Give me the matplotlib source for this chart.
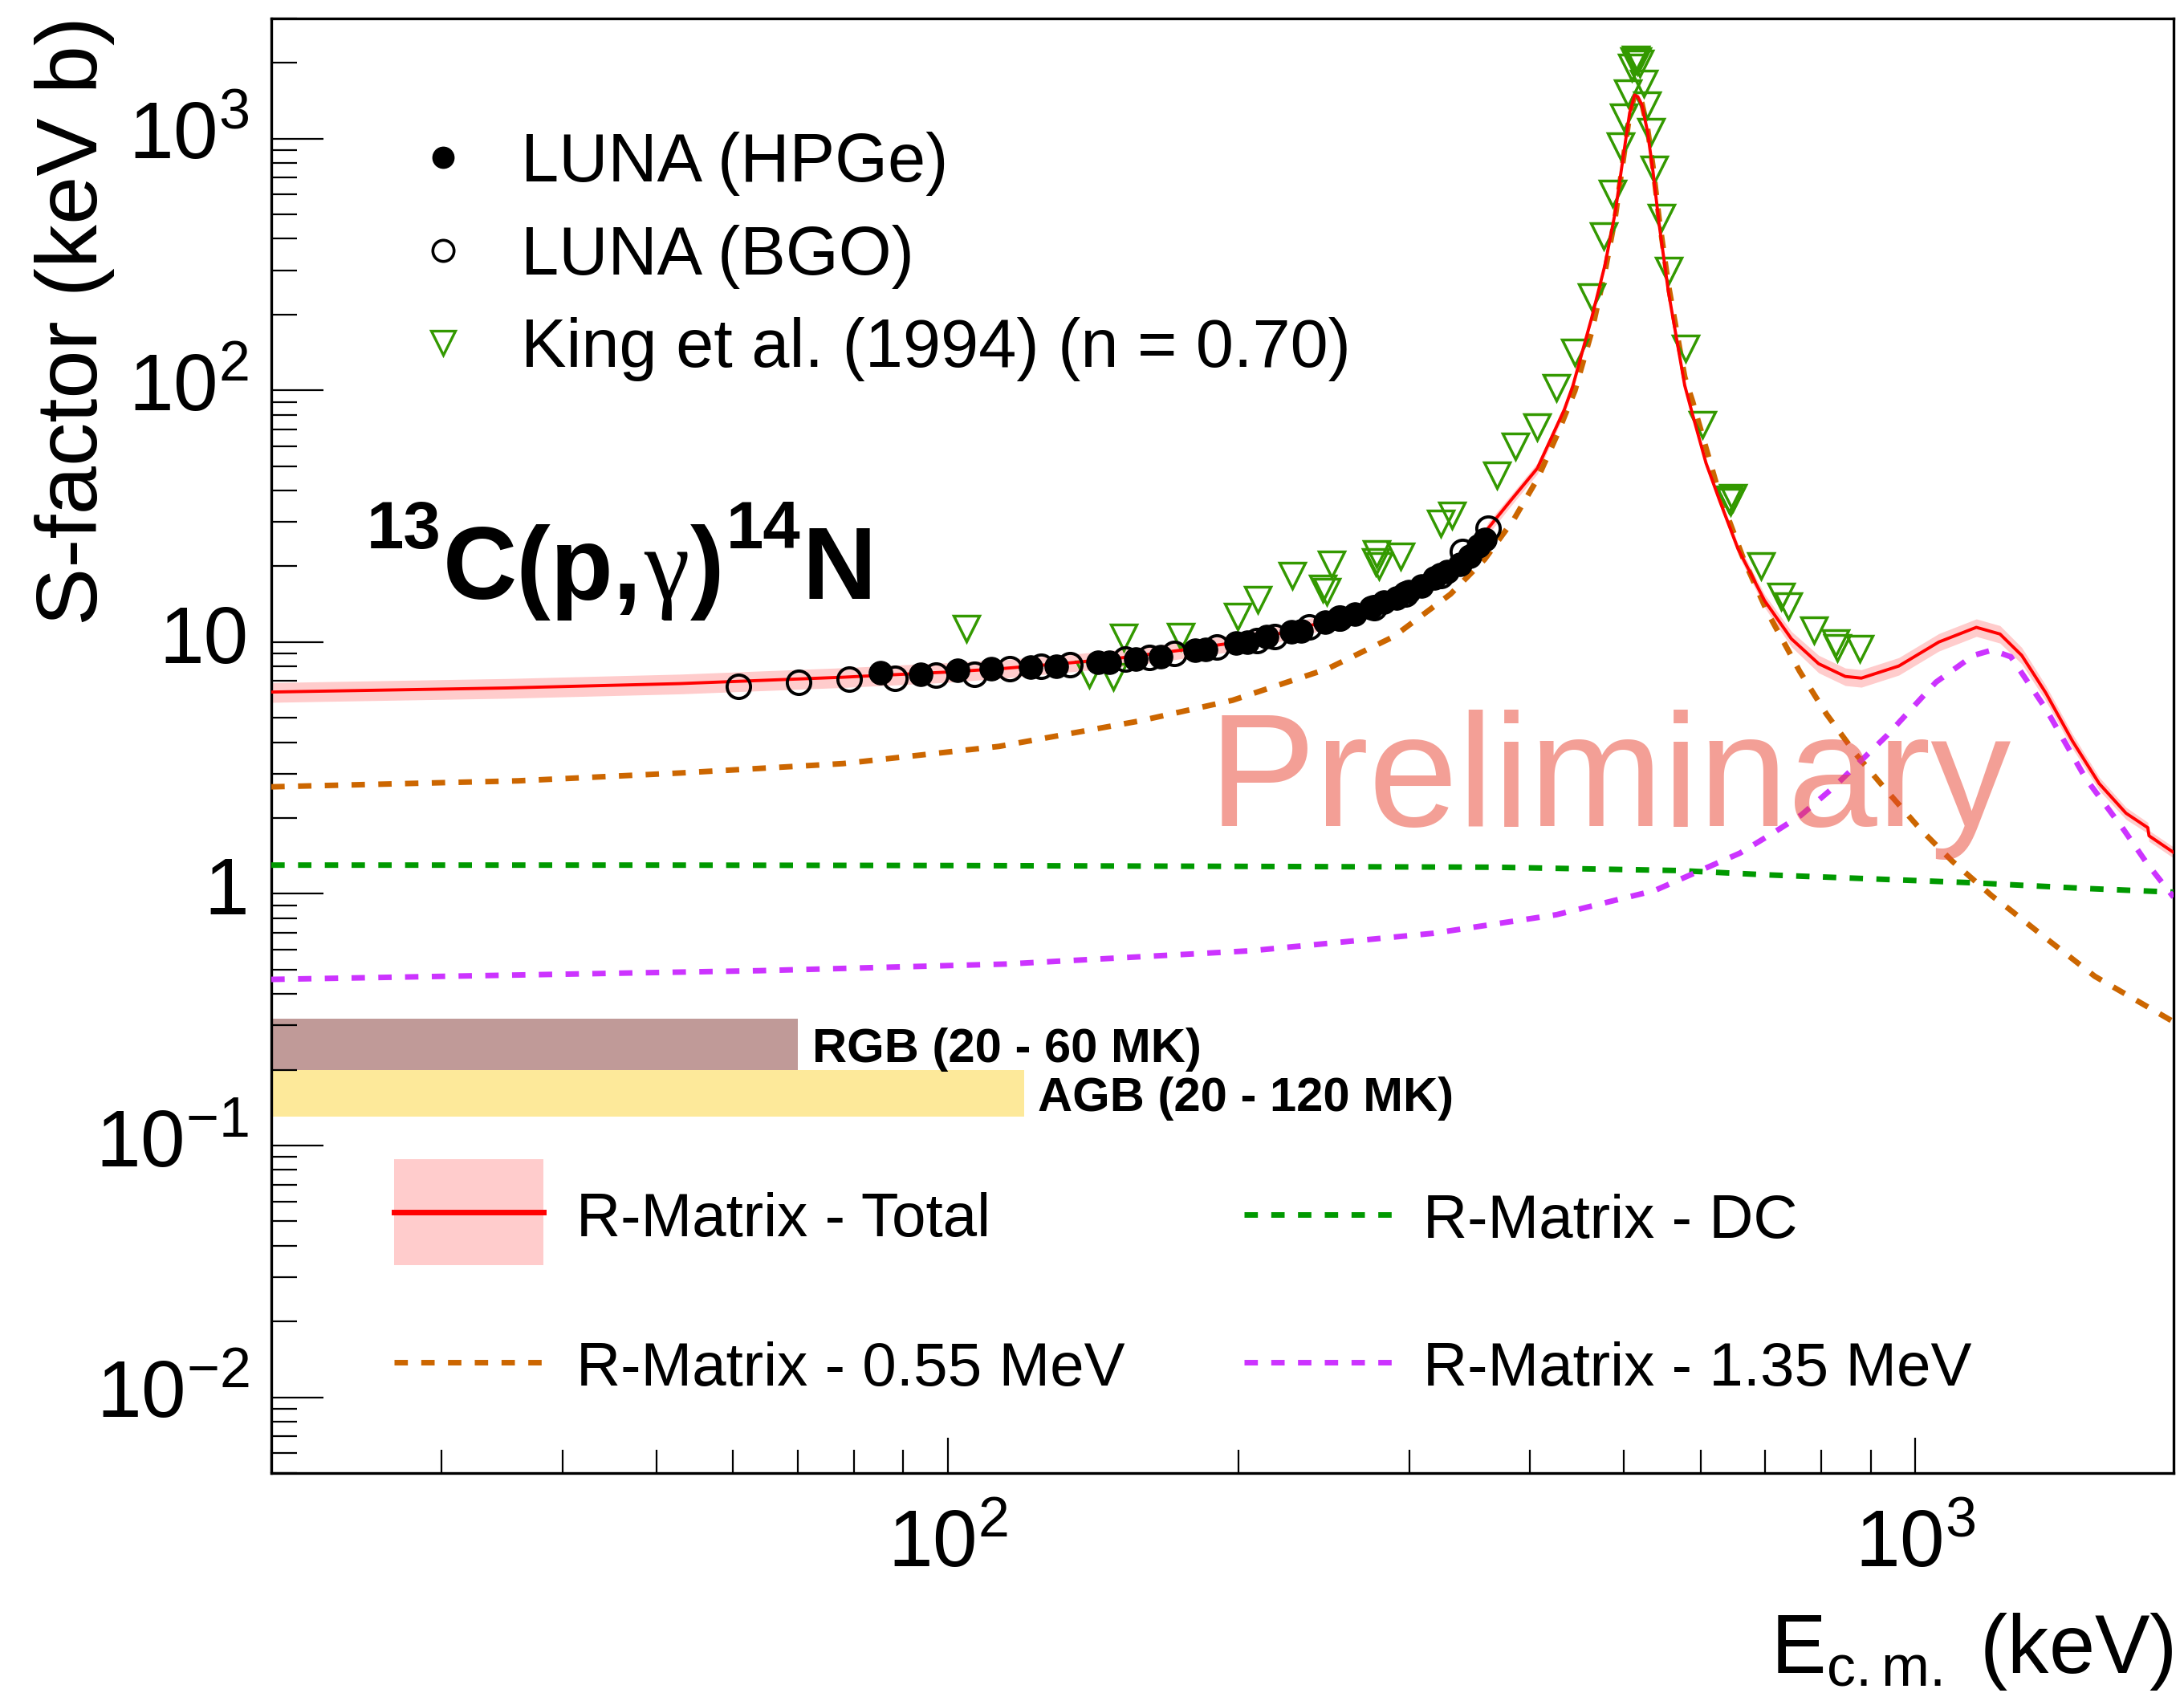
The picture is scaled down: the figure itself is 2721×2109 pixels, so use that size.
import numpy as np
import matplotlib
matplotlib.use("Agg")
import matplotlib.pyplot as plt
from matplotlib import transforms
from matplotlib.patches import Rectangle
from matplotlib.ticker import FixedLocator, LogLocator, NullFormatter

plt.rcParams["font.family"] = ["Liberation Sans", "DejaVu Sans"]
plt.rcParams["mathtext.fontset"] = "custom"
plt.rcParams["mathtext.rm"] = "Liberation Sans"
plt.rcParams["mathtext.it"] = "Liberation Sans:italic"
plt.rcParams["mathtext.bf"] = "Liberation Sans:bold"
plt.rcParams["mathtext.sf"] = "Liberation Sans"

# ---------------- data ----------------
# R-matrix total S-factor (keV b) and its relative uncertainty band
total_E = np.array([20, 35, 53, 78, 100, 114, 133, 150, 175, 200, 225, 250, 275, 300, 320,
                    340, 355, 362, 382, 407, 434, 443, 463, 478, 490, 499, 507, 513, 517,
                    522, 529, 536, 544, 556, 578, 589, 608, 628, 656, 699, 745, 795, 847,
                    880, 962, 1058, 1157, 1224, 1289, 1365, 1454, 1550, 1652, 1740, 1745,
                    1850])
total_S = np.array([6.33, 6.57, 6.84, 7.25, 7.6, 7.85, 8.25, 8.62, 9.3, 10.0, 11.0, 12.3,
                    13.9, 16.0, 18.2, 21.0, 24.4, 28.3, 36.5, 49.0, 83.9, 104.5, 193, 314,
                    512, 834, 1265, 1490, 1465, 1361, 1066, 738, 453, 246, 104.5, 79.9,
                    51.4, 36.5, 23.5, 14.6, 10.3, 8.2, 7.3, 7.19, 8.03, 10.0, 11.44, 10.76,
                    8.85, 6.28, 4.05, 2.74, 2.09, 1.83, 1.70, 1.46])
total_rel_err = np.array([0.09, 0.09, 0.09, 0.09, 0.09, 0.085, 0.08, 0.08, 0.075, 0.075,
                          0.07, 0.07, 0.065, 0.065, 0.06, 0.06, 0.055, 0.055, 0.05, 0.05,
                          0.04, 0.04, 0.03, 0.03, 0.03, 0.03, 0.03, 0.03, 0.03, 0.03, 0.03,
                          0.03, 0.035, 0.035, 0.04, 0.04, 0.04, 0.04, 0.05, 0.06, 0.07,
                          0.08, 0.08, 0.08, 0.08, 0.08, 0.08, 0.08, 0.075, 0.07, 0.065,
                          0.06, 0.055, 0.05, 0.05, 0.05])

# 0.55 MeV resonance component
res055_E = np.array([20, 36, 53, 78, 113, 158, 197, 247, 289, 331, 359, 385, 407, 426, 445,
                     463, 478, 490, 499, 507, 513, 517, 522, 529, 536, 544, 556, 578, 589,
                     628, 665, 704, 760, 810, 869, 937, 1012, 1092, 1201, 1251, 1356, 1534,
                     1850])
res055_S = np.array([2.66, 2.81, 3.02, 3.29, 3.85, 4.86, 5.87, 7.83, 10.5, 15.5, 21.3, 30.8,
                     44.4, 65.7, 99.5, 170, 295, 490, 810, 1250, 1490, 1470, 1380, 1100,
                     770, 475, 262, 113, 90.2, 38.4, 21.3, 13.1, 7.64, 5.17, 3.58, 2.54,
                     1.81, 1.35, 0.98, 0.87, 0.68, 0.47, 0.31])

# direct capture component
dc_E = np.array([20, 50, 100, 200, 368, 570, 700, 882, 1134, 1500, 1850])
dc_S = np.array([1.30, 1.30, 1.295, 1.285, 1.275, 1.237, 1.19, 1.15, 1.108, 1.05, 1.015])

# 1.35 MeV resonance component
res135_E = np.array([20, 64, 115, 206, 318, 426, 538, 659, 716, 762, 823, 935, 1051, 1149,
                     1201, 1256, 1365, 1501, 1641, 1738, 1850])
res135_S = np.array([0.457, 0.495, 0.526, 0.594, 0.697, 0.826, 1.03, 1.45, 1.76, 2.05, 2.64,
                     4.25, 6.93, 8.85, 9.29, 8.74, 5.43, 2.87, 1.81, 1.315, 0.97])

# LUNA data
hpge_E = np.array([85.2, 93.8, 102.5, 110.9, 121.9, 129.5, 143.1, 146.9, 156.6, 166.0,
                   180.1, 184.9, 198.7, 204.0, 213.5, 226.8, 232.0, 245.5, 254.0, 263.7,
                   273.9, 282.3, 290.9, 299.9, 309.0, 318.5, 328.3, 338.4, 346.1, 354.0,
                   359.4])
hpge_S = np.array([7.55, 7.46, 7.74, 7.83, 7.97, 8.03, 8.33, 8.33, 8.53, 8.78, 9.29, 9.34,
                   9.88, 10.0, 10.50, 10.97, 11.08, 12.01, 12.40, 12.93, 13.74, 14.43,
                   14.97, 15.84, 16.71, 17.98, 19.11, 20.32, 21.87, 24.11, 25.63])
bgo_E = np.array([60.8, 70.1, 79.2, 88.3, 97.3, 106.7, 116.0, 124.9, 133.9, 152.6, 161.7,
                  171.5, 189.9, 208.7, 217.6, 236.4, 254.0, 275.9, 297.6, 323.3, 340.8,
                  362.2])
bgo_S = np.array([6.65, 6.90, 7.10, 7.19, 7.37, 7.46, 7.83, 8.03, 8.13, 8.53, 8.68, 9.00,
                  9.57, 10.12, 10.55, 11.44, 12.46, 13.74, 15.53, 18.43, 22.96, 28.26])

# King et al. (1994), scaled by n = 0.70
king_E = np.array([104.5, 140.1, 148.4, 152.2, 174.1, 199.4, 209.2, 227.3, 244.2, 246.4,
                   249.2, 277.6, 277.0, 279.0, 294.2, 323.3, 331.9, 369.9, 386.0, 407.0,
                   425.6, 444.6, 462.8, 476.9, 486.4, 495.7, 500.2, 504.9, 509.8, 512.5,
                   514.0, 516.5, 519.6, 524.0, 528.3, 533.0, 537.5, 546.8, 555.9, 579.1,
                   602.5, 642, 645, 648, 693.7, 726.3, 739.3, 786.9, 827.9, 831.7, 875.9])
king_S = np.array([11.30, 7.42, 7.28, 10.45, 10.50, 12.61, 14.79, 18.43, 16.30, 15.91,
                   20.42, 22.4, 20.8, 20.07, 21.97, 29.68, 31.93, 46.0, 59.8, 71.5, 102.5,
                   141.9, 234.1, 410.9, 607.3, 931.4, 1219, 1519, 1917, 2030, 2062, 2040,
                   1988, 1655, 1361, 1066, 756.8, 487.4, 298.9, 147.2, 73.3, 37.0, 36.0,
                   37.5, 20.07, 15.15, 13.91, 11.16, 9.88, 9.52, 9.41])

# Gamow windows
rgb_E = (20, 70)
rgb_S = (0.20, 0.32)
agb_E = (20, 120)
agb_S = (0.13, 0.20)

x_ticks = [100, 1000]
x_tick_labels = [r"$10^{2}$", r"$10^{3}$"]
y_ticks = [0.01, 0.1, 1, 10, 100, 1000]
y_tick_labels = [r"$10^{-2}$", r"$10^{-1}$", "1", "10", r"$10^{2}$", r"$10^{3}$"]

# ---------------- colours / styles ----------------
C_RED = "#ff0000"
C_BAND = "#ffcccc"
C_ORANGE = "#cc6600"
C_DC = "#009900"
C_MAG = "#cc33ff"
C_KING = "#339900"
DASH = (2.4, 2.4)
LW_DASH = 5.0

W, H = 2721, 2109
fig = plt.figure(figsize=(W / 100, H / 100), dpi=100)
ax = fig.add_axes([338 / W, 1 - 1835 / H, (2708 - 338) / W, (1835 - 23) / H])
ax.set_xscale("log")
ax.set_yscale("log")
ax.set_xlim(20, 1850)
ax.set_ylim(0.005, 3000)

# Gamow-window bars
ax.add_patch(Rectangle((rgb_E[0], rgb_S[0]), rgb_E[1] - rgb_E[0], rgb_S[1] - rgb_S[0],
                       facecolor="#c09a98", edgecolor="none", zorder=1))
ax.add_patch(Rectangle((agb_E[0], agb_S[0]), agb_E[1] - agb_E[0], agb_S[1] - agb_S[0],
                       facecolor="#fde99a", edgecolor="none", zorder=1))

# curves
ax.fill_between(total_E, total_S * (1 - total_rel_err), total_S * (1 + total_rel_err),
                color=C_BAND, lw=0, zorder=2)
ax.plot(res055_E, res055_S, color=C_ORANGE, lw=LW_DASH, dashes=DASH, zorder=3)
ax.plot(dc_E, dc_S, color=C_DC, lw=LW_DASH, dashes=DASH, zorder=3)
ax.plot(res135_E, res135_S, color=C_MAG, lw=LW_DASH, dashes=DASH, zorder=3)
ax.plot(king_E, king_S, ls="none", marker="v", ms=23, mfc="none", mec=C_KING, mew=2.5,
        zorder=4)
ax.plot(total_E, total_S, color=C_RED, lw=2.8, zorder=5)
ax.plot(bgo_E, bgo_S, ls="none", marker="o", ms=21, mfc="none", mec="black", mew=2.8,
        zorder=6)
ax.plot(hpge_E, hpge_S, ls="none", marker="o", ms=21, mfc="black", mec="black", mew=1,
        zorder=6)

# axes frame and ticks
for sp in ax.spines.values():
    sp.set_linewidth(2.4)
ax.xaxis.set_major_locator(FixedLocator(x_ticks))
ax.xaxis.set_minor_locator(LogLocator(base=10, subs=np.arange(2, 10), numticks=20))
ax.yaxis.set_major_locator(FixedLocator(y_ticks))
ax.yaxis.set_minor_locator(LogLocator(base=10, subs=np.arange(2, 10), numticks=20))
for axis in (ax.xaxis, ax.yaxis):
    axis.set_major_formatter(NullFormatter())
    axis.set_minor_formatter(NullFormatter())
ax.tick_params(which="both", direction="in", top=False, right=False,
               labelbottom=False, labelleft=False, width=1.6, color="black")
ax.tick_params(axis="y", which="major", length=47)
ax.tick_params(axis="y", which="minor", length=23)
ax.tick_params(axis="x", which="major", length=32)
ax.tick_params(axis="x", which="minor", length=21)

# tick labels
ytr = transforms.blended_transform_factory(ax.transAxes, ax.transData) + \
    transforms.ScaledTranslation(-0.28, 0, fig.dpi_scale_trans)
for v, s in zip(y_ticks, y_tick_labels):
    ax.text(0, v, s, transform=ytr, ha="right", va="center", fontsize=72, clip_on=False)
xtr = transforms.blended_transform_factory(ax.transData, ax.transAxes) + \
    transforms.ScaledTranslation(0, -0.44, fig.dpi_scale_trans)
for v, s in zip(x_ticks, x_tick_labels):
    ax.text(v, 0, s, transform=xtr, ha="center", va="top", fontsize=72, clip_on=False)

# axis titles
fig.text(93 / W, 1 - 20 / H, "S-factor (keV b)", rotation=90, ha="center", va="top",
         fontsize=78)
fig.text(2708 / W, 1 - 2084 / H, r"E$_{\mathrm{c.m.}}$ (keV)", ha="right",
         va="baseline", fontsize=74)

# overlay in pixel units for legends and annotations
ov = fig.add_axes([0, 0, 1, 1], zorder=5)
ov.set_xlim(0, W)
ov.set_ylim(H, 0)
ov.axis("off")
ov.patch.set_alpha(0)

# upper legend
ov.plot([552], [196], marker="o", ms=19, mfc="black", mec="black", ls="none")
ov.plot([552], [312], marker="o", ms=19, mfc="none", mec="black", mew=2.6, ls="none")
ov.plot([552], [427], marker="v", ms=21, mfc="none", mec=C_KING, mew=2.4, ls="none")
for yb, s in zip([226, 342, 457],
                 ["LUNA (HPGe)", "LUNA (BGO)", "King et al. (1994) (n = 0.70)"]):
    ov.text(649, yb, s, fontsize=61, ha="left", va="baseline")

# reaction label, laid out run by run
renderer = fig.canvas.get_renderer()
x_end = 0
for s, x0, yb, size, fam, wt in [
        ("13", 457, 683, 60, "Liberation Sans", "bold"),
        ("C(p,", 550, 746, 92, "Liberation Sans", "bold"),
        ("\u03b3", 792, 746, 92, "Liberation Serif", "normal"),
        (")", 859, 746, 92, "Liberation Sans", "bold"),
        ("14", 904, 683, 60, "Liberation Sans", "bold"),
        ("N", 996, 746, 92, "Liberation Sans", "bold")]:
    x = max(x0, x_end + 2)
    t = ov.text(x, yb, s, fontsize=size, family=fam, fontweight=wt, ha="left",
                va="baseline")
    bb = t.get_window_extent(renderer=renderer)
    x_end = x + bb.width

# Gamow window labels
ov.text(1012, 1323, "RGB (20 - 60 MK)", fontsize=43, fontweight="bold", ha="left",
        va="baseline")
ov.text(1293, 1384, "AGB (20 - 120 MK)", fontsize=43, fontweight="bold", ha="left",
        va="baseline")

# lower legend
ov.add_patch(Rectangle((491, 1444), 186, 132, facecolor=C_BAND, edgecolor="none"))
ov.plot([491, 677], [1510, 1510], color=C_RED, lw=5)
ov.plot([1550, 1735], [1513, 1513], color=C_DC, lw=LW_DASH, dashes=DASH)
ov.plot([491, 677], [1697, 1697], color=C_ORANGE, lw=LW_DASH, dashes=DASH)
ov.plot([1550, 1735], [1697, 1697], color=C_MAG, lw=LW_DASH, dashes=DASH)
for x0, yb, s in [(718, 1540, "R-Matrix - Total"), (1773, 1542, "R-Matrix - DC"),
                  (718, 1726, "R-Matrix - 0.55 MeV"), (1773, 1726, "R-Matrix - 1.35 MeV")]:
    ov.text(x0, yb, s, fontsize=55, ha="left", va="baseline")

# watermark
ov.text(1506, 1029, "Preliminary", fontsize=144, color="#e8412e", alpha=0.5,
        ha="left", va="baseline", zorder=10)

fig.savefig("out.png", dpi=100)
